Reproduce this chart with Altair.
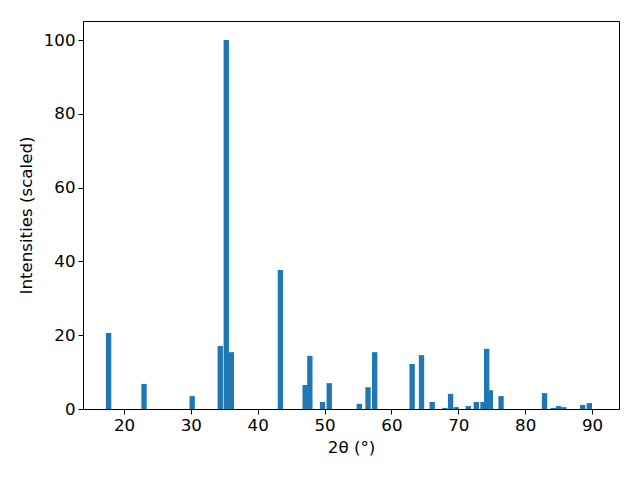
import altair as alt
import pandas as pd

two_theta = [17.7, 23.0, 30.2, 34.4, 35.3, 36.05, 43.4, 47.1, 47.8, 49.7, 50.7,
             55.2, 56.5, 57.5, 63.1, 64.5, 66.1, 68.0, 68.85, 69.7, 71.5, 72.7,
             73.7, 74.25, 74.8, 76.4, 82.9, 84.2, 85.0, 85.8, 88.6, 89.6]
intensity = [20.6, 6.8, 3.5, 17.1, 100.0, 15.4, 37.7, 6.5, 14.4, 1.9, 7.0,
             1.4, 5.9, 15.4, 12.2, 14.6, 1.9, 0.3, 4.1, 0.5, 0.8, 1.9,
             1.9, 16.3, 5.1, 3.5, 4.3, 0.3, 0.8, 0.5, 1.1, 1.6]
bar_width = 0.8
x_ticks = [20, 30, 40, 50, 60, 70, 80, 90]
y_ticks = [0, 20, 40, 60, 80, 100]

df = pd.DataFrame({"tt": two_theta, "I": intensity})

font = "DejaVu Sans"
fs = 16.67

chart = alt.Chart(df).transform_calculate(
    x0=f"datum.tt - {bar_width/2}", x1=f"datum.tt + {bar_width/2}"
).mark_bar(color="#1f77b4", opacity=1).encode(
    x=alt.X("x0:Q", scale=alt.Scale(domain=[13.87, 94.04], nice=False, zero=False),
            axis=alt.Axis(values=x_ticks, title="2θ (°)", grid=False, format="d")),
    x2="x1:Q",
    y=alt.Y("I:Q", scale=alt.Scale(domain=[0, 105.15], nice=False),
            axis=alt.Axis(values=y_ticks, title="Intensities (scaled)", grid=False)),
    y2=alt.datum(0),
).properties(
    width=536, height=388,
    autosize=alt.AutoSizeParams(type="none"),
    padding={"left": 75, "top": 13, "right": 10, "bottom": 60},
).configure_view(
    stroke="black", strokeWidth=1
).configure_axis(
    domainColor="black", domainWidth=1, tickColor="black", tickSize=5, tickWidth=1,
    labelColor="black", labelFont=font, labelFontSize=fs, labelPadding=3,
    titleColor="black", titleFont=font, titleFontSize=fs, titleFontWeight="normal",
    labelFlush=False,
).configure_axisX(titlePadding=6).configure_axisY(titlePadding=8)

chart.save("out.html", embed_options={"renderer": "svg", "actions": False})
